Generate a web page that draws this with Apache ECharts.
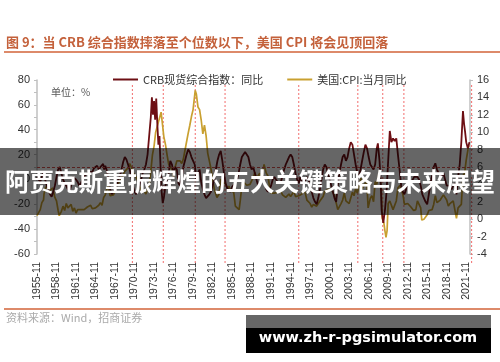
<!DOCTYPE html>
<html><head><meta charset="utf-8">
<script src="https://cdn.jsdelivr.net/npm/echarts/dist/echarts.min.js"></script>
<style>html,body{margin:0;padding:0;background:#fff}#c{width:500px;height:362px}</style>
</head><body><div id="c"></div>
<script>
// ---- data ----
const startMonth = '1955-11';
const endMonth = '2022-06';
const titleText = '图 9：当 CRB 综合指数摔落至个位数以下，美国 CPI 将会见顶回落';
const seriesNames = ['CRB现货综合指数：同比', '美国:CPI:当月同比'];
const unitText = '单位：%';
const sourceText = '资料来源：Wind，招商证券';
const bandText = '阿贾克斯重振辉煌的五大关键策略与未来展望';
const markText = 'www.zh-r-pgsimulator.com';
const leftAxis = {min: -60, max: 80, step: 20};
const rightAxis = {min: -4, max: 16, step: 2};
const thresholdCRB = 10;
const peakMarks = ['1970-07','1975-04','1980-03','1984-10','1996-02','2005-03','2009-01','2012-04','2022-09'];

const crb = [
['1955-11',2],['1956-02',0],['1956-05',-2],['1956-08',3],['1956-11',5],['1957-02',0],['1957-05',-5],['1957-08',-8],['1957-11',-12],
['1958-02',-14],['1958-05',-10],['1958-08',-5],['1958-11',2],['1959-02',8],['1959-05',10],['1959-08',5],['1959-11',0],
['1960-02',-3],['1960-05',-5],['1960-08',-8],['1960-11',-10],['1961-02',-5],['1961-05',2],['1961-08',3],['1961-11',0],
['1962-02',-2],['1962-05',-5],['1962-08',-3],['1962-11',0],['1963-02',2],['1963-05',4],['1963-08',5],['1963-11',6],
['1964-02',5],['1964-05',6],['1964-08',9],['1964-11',10],['1965-02',11],['1965-05',8],['1965-08',10],['1965-11',11],
['1966-01',12.5],['1966-03',8],['1966-05',11],['1966-08',7],['1966-11',0],['1967-02',-8],['1967-05',-12],['1967-08',-12],['1967-11',-8],
['1968-02',-5],['1968-05',0],['1968-08',3],['1968-11',8],['1969-02',14],['1969-05',18],['1969-08',16],['1969-11',12],
['1970-02',8],['1970-05',2],['1970-08',-5],['1970-11',-10],['1971-02',-12],['1971-05',-8],['1971-08',-5],['1971-11',0],
['1972-02',5],['1972-05',8],['1972-08',12],['1972-11',20],['1973-02',35],['1973-05',50],['1973-07',66],['1973-09',52],['1973-11',63],
['1974-01',48],['1974-03',65],['1974-05',45],['1974-07',28],['1974-09',35],['1974-11',10],['1975-01',-10],['1975-03',-19],['1975-05',-15],['1975-08',-5],['1975-11',0],
['1976-02',5],['1976-05',15],['1976-08',12],['1976-11',5],['1977-02',10],['1977-05',8],['1977-08',-3],['1977-11',-5],
['1978-02',0],['1978-05',10],['1978-08',15],['1978-11',20],['1979-02',24],['1979-05',22],['1979-08',18],['1979-11',15],
['1980-02',12],['1980-05',0],['1980-08',5],['1980-11',8],['1981-02',-2],['1981-05',-8],['1981-08',-12],['1981-11',-15],
['1982-02',-14],['1982-05',-12],['1982-08',-10],['1982-11',-5],['1983-02',0],['1983-05',8],['1983-08',15],['1983-11',20],
['1984-02',23],['1984-05',15],['1984-08',5],['1984-11',-3],['1985-02',-7],['1985-05',-8],['1985-08',-10],['1985-11',-6],
['1986-02',-5],['1986-05',-3],['1986-08',0],['1986-11',5],['1987-02',12],['1987-05',18],['1987-08',20],['1987-11',22],
['1988-02',23],['1988-05',18],['1988-08',12],['1988-11',8],['1989-02',10],['1989-05',5],['1989-08',0],['1989-11',-5],
['1990-02',-3],['1990-05',0],['1990-08',3],['1990-11',-2],['1991-02',-8],['1991-05',-10],['1991-08',-8],['1991-11',-5],
['1992-02',0],['1992-05',2],['1992-08',0],['1992-11',-2],['1993-02',-3],['1993-05',-2],['1993-08',3],['1993-11',8],
['1994-02',12],['1994-05',15],['1994-08',18],['1994-11',20],['1995-02',18],['1995-05',12],['1995-08',5],['1995-11',0],
['1996-02',-3],['1996-05',2],['1996-08',-2],['1996-11',-5],['1997-02',0],['1997-05',2],['1997-08',0],['1997-11',-5],
['1998-02',-10],['1998-05',-15],['1998-08',-18],['1998-11',-20],['1999-02',-15],['1999-05',-8],['1999-08',0],['1999-11',8],
['2000-02',12],['2000-05',10],['2000-08',5],['2000-11',0],['2001-02',-5],['2001-05',-10],['2001-08',-15],['2001-11',-18],
['2002-02',-5],['2002-05',5],['2002-08',12],['2002-11',18],['2003-02',20],['2003-05',15],['2003-08',18],['2003-11',25],
['2004-02',30],['2004-05',28],['2004-08',20],['2004-11',12],['2005-02',5],['2005-05',2],['2005-08',8],['2005-11',15],
['2006-02',22],['2006-05',28],['2006-08',25],['2006-11',18],['2007-02',12],['2007-05',10],['2007-08',8],['2007-11',12],
['2008-02',25],['2008-04',29],['2008-07',15],['2008-09',0],['2008-11',-25],['2009-02',-35],['2009-05',-25],['2009-08',-10],['2009-11',15],
['2010-02',39],['2010-05',30],['2010-08',33],['2010-11',31],['2011-02',33],['2011-05',20],['2011-08',8],['2011-11',-5],
['2012-02',-10],['2012-05',-12],['2012-08',-8],['2012-11',-3],['2013-02',0],['2013-05',-3],['2013-08',-2],['2013-11',2],
['2014-02',3],['2014-05',2],['2014-08',0],['2014-11',-5],['2015-02',-12],['2015-05',-15],['2015-08',-18],['2015-11',-20],
['2016-02',-12],['2016-05',-3],['2016-08',3],['2016-11',10],['2017-02',13],['2017-05',8],['2017-08',5],['2017-11',5],
['2018-02',3],['2018-05',5],['2018-08',0],['2018-11',-5],['2019-02',-6],['2019-05',-5],['2019-08',-8],['2019-11',-5],
['2020-02',-3],['2020-05',-12],['2020-08',2],['2020-11',12],['2021-02',30],['2021-05',55],['2021-07',45],['2021-09',38],['2021-11',30],
['2022-02',25],['2022-05',30]
];

const cpi = [
['1955-11',0.4],['1956-02',0.4],['1956-05',1.1],['1956-08',1.9],['1956-11',2.2],['1956-12',2.9],
['1957-03',3.7],['1957-05',3.6],['1957-08',3.6],['1957-11',3.3],['1958-02',3.2],['1958-04',3.6],['1958-08',2.5],['1958-11',2.1],
['1959-02',1.0],['1959-04',0.4],['1959-08',0.9],['1959-11',1.5],['1960-02',1.0],['1960-05',1.8],['1960-08',1.3],['1960-11',1.3],
['1961-02',1.7],['1961-05',0.9],['1961-08',1.3],['1961-11',0.7],['1962-02',1.1],['1962-05',1.1],['1962-08',1.1],['1962-11',1.3],
['1963-02',1.1],['1963-05',1.2],['1963-08',1.4],['1963-11',1.6],['1964-02',1.6],['1964-05',1.2],['1964-08',1.2],['1964-11',1.3],
['1965-02',1.2],['1965-05',1.6],['1965-08',1.9],['1965-11',1.6],['1966-02',2.5],['1966-05',2.8],['1966-08',3.5],['1966-10',3.8],['1966-11',3.6],
['1967-02',2.7],['1967-05',2.7],['1967-08',2.8],['1967-11',3.2],['1968-02',3.9],['1968-05',3.9],['1968-08',4.4],['1968-11',4.8],
['1969-02',4.7],['1969-05',5.5],['1969-08',5.7],['1969-11',5.9],['1970-02',6.4],['1970-05',6.0],['1970-08',5.4],['1970-11',5.6],
['1971-02',4.8],['1971-05',4.4],['1971-08',4.3],['1971-11',3.3],['1972-02',3.5],['1972-05',3.2],['1972-08',2.9],['1972-11',3.5],
['1973-02',3.9],['1973-05',5.5],['1973-08',7.4],['1973-11',8.4],['1974-02',10.0],['1974-05',10.7],['1974-08',10.9],['1974-12',12.3],
['1975-02',11.2],['1975-05',9.5],['1975-08',8.6],['1975-11',7.4],['1976-02',6.3],['1976-05',6.2],['1976-08',5.7],['1976-11',4.9],
['1977-02',6.0],['1977-05',6.7],['1977-08',6.6],['1977-11',6.7],['1978-02',6.4],['1978-05',6.9],['1978-08',7.9],['1978-11',8.9],
['1979-02',9.9],['1979-05',10.8],['1979-08',11.8],['1979-11',12.6],['1980-03',14.8],['1980-05',14.4],['1980-08',12.9],['1980-11',12.6],
['1981-02',11.4],['1981-05',9.8],['1981-08',10.8],['1981-11',9.6],['1982-02',7.6],['1982-05',6.7],['1982-08',5.8],['1982-11',4.6],
['1983-02',3.5],['1983-05',3.5],['1983-07',2.5],['1983-11',2.9],['1984-02',4.6],['1984-05',4.2],['1984-08',4.3],['1984-11',4.1],
['1985-02',3.5],['1985-05',3.8],['1985-08',3.3],['1985-11',3.5],['1986-02',3.1],['1986-05',1.5],['1986-08',1.6],['1986-12',1.1],
['1987-02',2.1],['1987-05',3.8],['1987-08',4.3],['1987-11',4.5],['1988-02',3.9],['1988-05',3.9],['1988-08',4.0],['1988-11',4.2],
['1989-02',4.8],['1989-05',5.4],['1989-08',4.7],['1989-11',4.7],['1990-02',5.3],['1990-05',4.4],['1990-08',5.6],['1990-10',6.3],
['1991-02',5.3],['1991-05',5.0],['1991-08',3.8],['1991-11',3.0],['1992-02',2.8],['1992-05',3.0],['1992-08',3.1],['1992-11',3.1],
['1993-02',3.2],['1993-05',3.2],['1993-08',2.8],['1993-11',2.7],['1994-02',2.5],['1994-05',2.3],['1994-08',2.9],['1994-11',2.6],
['1995-02',2.9],['1995-05',3.2],['1995-08',2.6],['1995-11',2.6],['1996-02',2.7],['1996-05',2.9],['1996-08',2.9],['1996-11',3.3],
['1997-02',3.0],['1997-05',2.2],['1997-08',2.2],['1997-11',1.8],['1998-02',1.4],['1998-05',1.7],['1998-08',1.6],['1998-11',1.5],
['1999-02',1.6],['1999-05',2.1],['1999-08',2.3],['1999-11',2.6],['2000-02',3.2],['2000-05',3.2],['2000-08',3.4],['2000-11',3.4],
['2001-02',3.5],['2001-05',3.6],['2001-08',2.7],['2001-11',1.9],['2002-02',1.1],['2002-05',1.2],['2002-08',1.8],['2002-11',2.2],
['2003-02',3.0],['2003-05',2.1],['2003-08',2.2],['2003-11',1.8],['2004-02',1.7],['2004-05',3.1],['2004-08',2.7],['2004-11',3.5],
['2005-02',3.0],['2005-05',2.8],['2005-09',4.7],['2005-11',3.5],['2006-02',3.6],['2006-06',4.3],['2006-08',3.8],['2006-10',1.3],
['2007-02',2.4],['2007-05',2.7],['2007-08',2.0],['2007-11',4.3],['2008-02',4.0],['2008-05',4.2],['2008-07',5.6],['2008-10',3.7],['2008-12',0.1],
['2009-03',-0.4],['2009-05',-1.3],['2009-07',-2.1],['2009-09',-1.3],['2009-11',1.8],['2010-02',2.1],['2010-05',2.0],['2010-08',1.1],['2010-11',1.1],
['2011-02',2.1],['2011-05',3.6],['2011-09',3.9],['2011-11',3.4],['2012-02',2.9],['2012-05',1.7],['2012-08',1.7],['2012-11',1.8],
['2013-02',2.0],['2013-05',1.4],['2013-08',1.5],['2013-10',1.0],['2014-02',1.1],['2014-05',2.1],['2014-08',1.7],['2014-11',1.3],
['2015-01',-0.1],['2015-05',0.0],['2015-08',0.2],['2015-11',0.5],['2016-02',1.0],['2016-05',1.0],['2016-08',1.1],['2016-11',1.7],
['2017-02',2.7],['2017-05',1.9],['2017-08',1.9],['2017-11',2.2],['2018-02',2.2],['2018-05',2.8],['2018-07',2.9],['2018-11',2.2],
['2019-02',1.5],['2019-05',1.8],['2019-08',1.7],['2019-11',2.1],['2020-02',2.3],['2020-05',0.1],['2020-08',1.3],['2020-11',1.2],
['2021-02',1.7],['2021-05',5.0],['2021-08',5.3],['2021-11',6.8],['2022-02',7.9],['2022-03',8.5],['2022-04',8.3],['2022-05',8.6]
];

// ---- helpers ----
function monthIndex(s){ const p = s.split('-').map(Number); const q = startMonth.split('-').map(Number); return (p[0]-q[0])*12 + (p[1]-q[1]); }
function buildMonths(s, e){
  let [y, m] = s.split('-').map(Number); const [ey, em] = e.split('-').map(Number); const out = [];
  while (y < ey || (y === ey && m <= em)) { out.push(y + '-' + String(m).padStart(2, '0')); m++; if (m > 12) { m = 1; y++; } }
  return out;
}
const months = buildMonths(startMonth, endMonth);
const lastIdx = months.length - 1;
const markIdx = peakMarks.map(monthIndex);
const markMax = Math.max(lastIdx, ...markIdx) + 1;

const G = {left: 37, right: 30, top: 80, height: 174};
const plotW = 500 - G.left - G.right;
const perMonth = plotW / lastIdx;

const FONT = 'Arial, "Liberation Sans", sans-serif';
const CJK = '"Noto Sans CJK SC", sans-serif';
const CRB_COLOR = '#6d0f14';
const CPI_COLOR = '#c9a030';

const chart = echarts.init(document.getElementById('c'), null, {renderer: 'canvas'});
chart.setOption({
  animation: false,
  backgroundColor: '#fff',
  legend: {
    left: 108, top: 69, itemWidth: 25, itemHeight: 2, itemGap: 24, icon: 'rect',
    textStyle: {fontFamily: CJK, fontSize: 11, color: '#333'},
    data: seriesNames
  },
  grid: [
    {left: G.left, right: G.right, top: G.top, height: G.height},
    {left: G.left, right: 500 - G.left - perMonth * markMax, top: 85, height: 178}
  ],
  xAxis: [
    {type: 'category', data: months, boundaryGap: false, gridIndex: 0,
     axisLine: {show: false}, axisTick: {show: false},
     axisLabel: {interval: 35, rotate: 90, fontSize: 10.5, color: '#333', fontFamily: FONT, margin: 8}},
    {type: 'value', gridIndex: 1, min: 0, max: markMax, show: false}
  ],
  yAxis: [
    {type: 'value', gridIndex: 0, min: leftAxis.min, max: leftAxis.max, interval: leftAxis.step,
     axisLine: {show: true, lineStyle: {color: '#bfbfbf', width: 1.5}},
     axisTick: {show: true, length: 3, lineStyle: {color: '#bfbfbf'}},
     minorTick: {show: true, splitNumber: 2, length: 3, lineStyle: {color: '#bfbfbf'}},
     splitLine: {show: false},
     axisLabel: {fontSize: 11, color: '#333', fontFamily: FONT, margin: 7}},
    {type: 'value', gridIndex: 0, position: 'right', min: rightAxis.min, max: rightAxis.max, interval: rightAxis.step,
     axisLine: {show: true, lineStyle: {color: '#bfbfbf', width: 1.5}},
     axisTick: {show: true, length: 3, lineStyle: {color: '#bfbfbf'}},
     splitLine: {show: false},
     axisLabel: {fontSize: 11, color: '#333', fontFamily: FONT, margin: 7}},
    {type: 'value', gridIndex: 1, min: 0, max: 1, show: false}
  ],
  series: [
    {name: seriesNames[0], type: 'line', xAxisIndex: 0, yAxisIndex: 0, data: crb, symbol: 'none',
     lineStyle: {color: CRB_COLOR, width: 1.8}, itemStyle: {color: CRB_COLOR}, z: 3,
     markLine: {silent: true, symbol: 'none', label: {show: false},
       lineStyle: {color: '#d9534f', type: [3, 2], width: 1}, data: [{yAxis: thresholdCRB}]}},
    {name: seriesNames[1], type: 'line', xAxisIndex: 0, yAxisIndex: 1, data: cpi, symbol: 'none',
     lineStyle: {color: CPI_COLOR, width: 1.7}, itemStyle: {color: CPI_COLOR}, z: 2},
    {type: 'custom', xAxisIndex: 1, yAxisIndex: 2, silent: true, data: markIdx, z: 1,
     renderItem: function(params, api){
       const a = api.coord([api.value(0), 0]); const b = api.coord([api.value(0), 1]);
       return {type: 'line', shape: {x1: a[0], y1: a[1], x2: b[0], y2: b[1]},
         style: {stroke: '#f26d6d', lineWidth: 1, lineDash: [2, 2]}};
     }}
  ],
  graphic: [
    {type: 'text', left: 6, top: 36, z: 50, style: {text: titleText, fill: '#c4613b', font: 'bold 13px ' + CJK}},
    {type: 'rect', shape: {x: 4, y: 51, width: 496, height: 2}, z: 50, style: {fill: '#dd8a6a'}},
    {type: 'text', left: 51, top: 87, z: 50, style: {text: unitText, fill: '#555', font: '10px ' + CJK}},
    {type: 'rect', shape: {x: 4, y: 308, width: 496, height: 2}, z: 50, style: {fill: '#dd8a6a'}},
    {type: 'text', left: 6, top: 312, z: 50, style: {text: sourceText, fill: '#aaa', font: '11px ' + CJK}},
    {type: 'rect', shape: {x: 0, y: 148, width: 500, height: 67}, z: 100, style: {fill: 'rgba(0,0,0,0.6)'}},
    {type: 'text', x: 250, y: 182, z: 101, style: {text: bandText, fill: '#fff', font: 'bold 24.5px ' + CJK, textAlign: 'center', textVerticalAlign: 'middle'}},
    {type: 'rect', shape: {x: 246, y: 315, width: 245, height: 13}, z: 100, style: {fill: '#666'}},
    {type: 'rect', shape: {x: 246, y: 328, width: 245, height: 25}, z: 100, style: {fill: '#000'}},
    {type: 'text', x: 368, y: 338, z: 101, style: {text: markText, fill: '#fff', font: 'bold 14.5px "DejaVu Sans", sans-serif', textAlign: 'center', textVerticalAlign: 'middle'}}
  ]
});
</script>
</body></html>
